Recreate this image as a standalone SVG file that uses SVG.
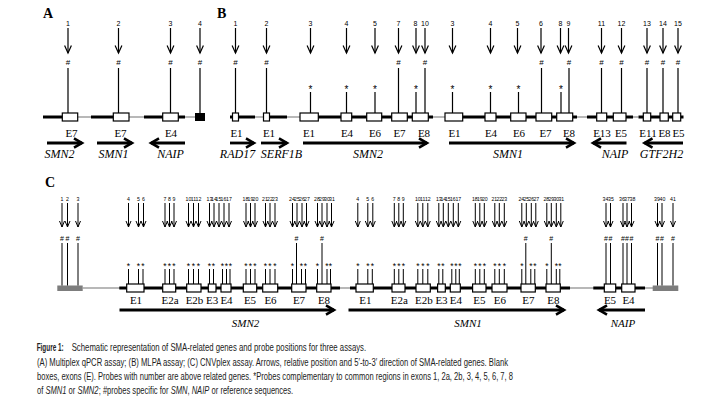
<svg xmlns="http://www.w3.org/2000/svg" width="724" height="405" viewBox="0 0 724 405">
<defs>
<marker id="ah" viewBox="-10 -6 12 12" refX="0" refY="0" markerWidth="12" markerHeight="12" markerUnits="userSpaceOnUse" orient="auto" overflow="visible"><path d="M-7.5,-3.4 L0,0 L-7.5,3.4" fill="none" stroke="#000" stroke-width="1.2"/></marker>
<marker id="ac" viewBox="-8 -4 10 8" refX="0" refY="0" markerWidth="10" markerHeight="8" markerUnits="userSpaceOnUse" orient="auto" overflow="visible"><path d="M-6,-2.5 L0,0 L-6,2.5" fill="none" stroke="#000" stroke-width="1"/></marker>
<marker id="gh" viewBox="-12 -8 16 16" refX="0" refY="0" markerWidth="16" markerHeight="16" markerUnits="userSpaceOnUse" orient="auto" overflow="visible"><path d="M-8,-4.6 L0,0 L-8,4.6" fill="none" stroke="#000" stroke-width="2.6"/></marker>
</defs>
<style>
.tk{stroke:#000;stroke-width:3;fill:none}
.tn{stroke:#a0a0a0;stroke-width:1.5;fill:none}
.ex{fill:#fff;stroke:#000;stroke-width:1.2}
.rf{fill:#7d7d7d}
.st{stroke:#000;stroke-width:1.2;fill:none}
.sc{stroke:#000;stroke-width:1;fill:none}
.pa{stroke:#000;stroke-width:1.2;fill:none;marker-end:url(#ah)}
.pc{stroke:#000;stroke-width:1;fill:none;marker-end:url(#ac)}
.ga{stroke:#000;stroke-width:2.8;fill:none;marker-end:url(#gh)}
.n{font-family:"Liberation Sans",Arial,sans-serif;font-size:7px;text-anchor:middle;fill:#000}
.nc{font-family:"Liberation Sans",Arial,sans-serif;font-size:5.2px;text-anchor:middle;fill:#000}
.m{font-family:"Liberation Sans",Arial,sans-serif;font-size:8px;text-anchor:middle;fill:#000}
.s{font-family:"Liberation Sans",Arial,sans-serif;font-size:10px;text-anchor:middle;fill:#000}
.mc{font-family:"Liberation Sans",Arial,sans-serif;font-size:7px;text-anchor:middle;fill:#000}
.sk{font-family:"Liberation Sans",Arial,sans-serif;font-size:8.5px;text-anchor:middle;fill:#000}
.e{font-family:"Liberation Serif","Times New Roman",serif;font-size:11px;text-anchor:middle;fill:#000}
.g{font-family:"Liberation Serif","Times New Roman",serif;font-size:12px;font-style:italic;text-anchor:middle;fill:#000}
.gc{font-family:"Liberation Serif","Times New Roman",serif;font-size:11px;font-style:italic;text-anchor:middle;fill:#000}
.pl{font-family:"Liberation Serif","Times New Roman",serif;font-size:14px;font-weight:bold;fill:#000}
.cap{font-family:"Liberation Sans",Arial,sans-serif;font-size:10px;fill:#222}
.it{font-style:italic}
</style>
<rect width="724" height="405" fill="#fff"/>

<g id="panel-letters">
<text class="pl" x="43" y="17.5">A</text>
<text class="pl" x="217" y="17.5">B</text>
<text class="pl" x="45" y="187">C</text>
</g>

<!-- ===== Panel A genes ===== -->
<g id="A-SMN2">
<line class="tk" x1="43" y1="117" x2="70" y2="117"/>
<line class="tn" x1="78" y1="117" x2="91" y2="117"/>
<rect class="ex" x="62.3" y="113" width="15.4" height="8"/>
<text class="e" x="71.5" y="137">E7</text>
<text class="g" x="59.5" y="158">SMN2</text>
</g>
<g id="A-SMN1">
<line class="tk" x1="91" y1="117" x2="121" y2="117"/>
<line class="tn" x1="129" y1="117" x2="144" y2="117"/>
<rect class="ex" x="113.3" y="113" width="15.7" height="8"/>
<text class="e" x="120.5" y="137">E7</text>
<text class="g" x="113.5" y="158">SMN1</text>
</g>
<g id="A-NAIP">
<line class="tk" x1="144" y1="117" x2="185" y2="117"/>
<line class="tn" x1="185" y1="117" x2="195" y2="117"/>
<rect class="ex" x="162.7" y="113" width="15.6" height="8"/>
<text class="e" x="171" y="137">E4</text>
<text class="g" x="170.5" y="158">NAIP</text>
</g>
<g id="A-ref">
<rect x="195" y="113" width="10" height="8" fill="#000"/>
</g>
<g id="A-probes">
<text class="n" x="68" y="26">1</text><text class="m" x="68" y="65">#</text>
<text class="n" x="118.5" y="26">2</text><text class="m" x="118.5" y="65">#</text>
<text class="n" x="170.5" y="26">3</text><text class="m" x="170.5" y="65">#</text>
<text class="n" x="200" y="26">4</text><text class="m" x="200" y="65">#</text>
<path class="st" d="M68 68V113M118.5 68V113M170.5 68V113M200 68V113"/>
</g>

<!-- ===== Panel B genes ===== -->
<g id="B-RAD17">
<line class="tk" x1="230" y1="117" x2="255" y2="117"/>
<rect class="ex" x="232.5" y="113" width="6" height="8"/>
<text class="e" x="236.5" y="137">E1</text>
<text class="g" x="237.5" y="158">RAD17</text>
</g>
<g id="B-SERF1B">
<line class="tn" x1="255" y1="117" x2="264" y2="117"/>
<line class="tk" x1="266" y1="117" x2="287" y2="117"/>
<rect class="ex" x="263.5" y="113" width="6" height="8"/>
<text class="e" x="269" y="137">E1</text>
<text class="g" x="281.5" y="158">SERF1B</text>
</g>
<g id="B-SMN2">
<line class="tn" x1="287" y1="117" x2="301" y2="117"/>
<line class="tk" x1="301" y1="117" x2="433" y2="117"/>
<rect class="ex" x="300" y="113" width="18.3" height="8"/>
<rect class="ex" x="341" y="113" width="10.7" height="8"/>
<rect class="ex" x="366.7" y="113" width="15" height="8"/>
<rect class="ex" x="391.7" y="113" width="15.6" height="8"/>
<rect class="ex" x="412.3" y="113" width="16" height="8"/>
<text class="e" x="309" y="137">E1</text>
<text class="e" x="347" y="137">E4</text>
<text class="e" x="375" y="137">E6</text>
<text class="e" x="399.5" y="137">E7</text>
<text class="e" x="424" y="137">E8</text>
<text class="g" x="368" y="158">SMN2</text>
</g>
<g id="B-SMN1">
<line class="tn" x1="433" y1="117" x2="446" y2="117"/>
<line class="tk" x1="446" y1="117" x2="577" y2="117"/>
<rect class="ex" x="445" y="113" width="17.7" height="8"/>
<rect class="ex" x="485" y="113" width="11" height="8"/>
<rect class="ex" x="510.7" y="113" width="15.3" height="8"/>
<rect class="ex" x="536" y="113" width="15.7" height="8"/>
<rect class="ex" x="556.7" y="113" width="16" height="8"/>
<text class="e" x="454.5" y="137">E1</text>
<text class="e" x="491" y="137">E4</text>
<text class="e" x="519" y="137">E6</text>
<text class="e" x="545.5" y="137">E7</text>
<text class="e" x="569" y="137">E8</text>
<text class="g" x="508" y="158">SMN1</text>
</g>
<g id="B-NAIP">
<line class="tn" x1="577" y1="117" x2="587" y2="117"/>
<line class="tk" x1="587" y1="117" x2="633" y2="117"/>
<rect class="ex" x="596.7" y="113" width="10" height="8"/>
<rect class="ex" x="613.3" y="113" width="12.7" height="8"/>
<text class="e" x="602" y="137">E13</text>
<text class="e" x="621" y="137">E5</text>
<text class="g" x="615" y="158">NAIP</text>
</g>
<g id="B-GTF2H2">
<line class="tn" x1="633" y1="117" x2="638.5" y2="117"/>
<line class="tk" x1="638.5" y1="117" x2="683.5" y2="117"/>
<rect class="ex" x="643.3" y="113" width="7.4" height="8"/>
<rect class="ex" x="660" y="113" width="8.3" height="8"/>
<rect class="ex" x="672.7" y="113" width="8" height="8"/>
<text class="e" x="648" y="137">E11</text>
<text class="e" x="664.5" y="137">E8</text>
<text class="e" x="678.5" y="137">E5</text>
<text class="g" x="661.5" y="158">GTF2H2</text>
</g>
<g id="B-probes">
<text class="n" x="235.5" y="26">1</text>
<text class="n" x="266.5" y="26">2</text>
<text class="n" x="310.5" y="26">3</text>
<text class="n" x="346.5" y="26">4</text>
<text class="n" x="375" y="26">5</text>
<text class="n" x="398.5" y="26">7</text>
<text class="n" x="415.5" y="26">8</text>
<text class="n" x="425" y="26">10</text>
<text class="n" x="452.5" y="26">3</text>
<text class="n" x="490.5" y="26">4</text>
<text class="n" x="517.5" y="26">5</text>
<text class="n" x="541" y="26">6</text>
<text class="n" x="560.5" y="26">8</text>
<text class="n" x="568.5" y="26">9</text>
<text class="n" x="601.5" y="26">11</text>
<text class="n" x="621.5" y="26">12</text>
<text class="n" x="647" y="26">13</text>
<text class="n" x="663" y="26">14</text>
<text class="n" x="678" y="26">15</text>
<text class="m" x="235.5" y="65">#</text>
<text class="m" x="266.5" y="65">#</text>
<text class="m" x="398.5" y="65">#</text>
<text class="m" x="425" y="65">#</text>
<text class="m" x="541.5" y="65">#</text>
<text class="m" x="569" y="65">#</text>
<text class="m" x="601.5" y="65">#</text>
<text class="m" x="621.5" y="65">#</text>
<text class="m" x="647" y="65">#</text>
<text class="m" x="663" y="65">#</text>
<text class="m" x="678" y="65">#</text>
<text class="s" x="310.5" y="92.5">*</text>
<text class="s" x="346.5" y="92.5">*</text>
<text class="s" x="375" y="92.5">*</text>
<text class="s" x="416" y="92.5">*</text>
<text class="s" x="452.5" y="92.5">*</text>
<text class="s" x="490.5" y="92.5">*</text>
<text class="s" x="518.5" y="92.5">*</text>
<text class="s" x="561" y="92.5">*</text>
<path class="st" d="M235.5 68V113M266.5 68V113M398.5 68V113M425 68V113M541.5 68V113M569 68V113M601.5 68V113M621.5 68V113M647 68V113M663 68V113M678 68V113M310.5 92V113M346.5 92V113M375 92V113M416 92V113M452.5 92V113M490.5 92V113M518.5 92V113M561 92V113"/>
</g>

<!-- ===== Panel C genes ===== -->
<g id="C-ref-left">
<line class="tn" x1="82.7" y1="288" x2="120" y2="288"/>
<rect class="rf" x="57.3" y="285.5" width="25.4" height="5.5"/>
<text class="nc" x="62" y="201">1</text>
<text class="nc" x="67.5" y="201">2</text>
<text class="nc" x="78" y="201">3</text>
<text class="mc" x="62" y="240.5">#</text>
<text class="mc" x="67.5" y="240.5">#</text>
<text class="mc" x="78" y="240.5">#</text>
<path class="sc" d="M62 243V285.5M67.5 243V285.5M78 243V285.5"/>
</g>
<g id="C-backbone">
<line class="tk" x1="119.3" y1="288" x2="340" y2="288"/>
<line class="tn" x1="340" y1="288" x2="350" y2="288"/>
<line class="tk" x1="350" y1="288" x2="570" y2="288"/>
<line class="tn" x1="570" y1="288" x2="594" y2="288"/>
<line class="tk" x1="593.3" y1="288" x2="645" y2="288"/>
<line class="tn" x1="645" y1="288" x2="653" y2="288"/>
</g>
<g id="C-SMN2">
<rect class="ex" x="126.7" y="284" width="17.3" height="8"/>
<rect class="ex" x="162.7" y="284" width="13" height="8"/>
<rect class="ex" x="186.7" y="284" width="14.3" height="8"/>
<rect class="ex" x="208.3" y="284" width="7.7" height="8"/>
<rect class="ex" x="221" y="284" width="10" height="8"/>
<rect class="ex" x="243.3" y="284" width="13.4" height="8"/>
<rect class="ex" x="262.7" y="284" width="15" height="8"/>
<rect class="ex" x="291.7" y="284" width="14.3" height="8"/>
<rect class="ex" x="316.7" y="284" width="14.3" height="8"/>
<text class="e" x="136" y="304">E1</text>
<text class="e" x="170" y="304">E2a</text>
<text class="e" x="194.5" y="304">E2b</text>
<text class="e" x="212.2" y="304">E3</text>
<text class="e" x="226.5" y="304">E4</text>
<text class="e" x="250" y="304">E5</text>
<text class="e" x="270.5" y="304">E6</text>
<text class="e" x="299" y="304">E7</text>
<text class="e" x="324" y="304">E8</text>
<g id="C-SMN2-probes">
<text class="nc" x="128.5" y="201">4</text>
<text class="nc" x="138.5" y="201">5</text>
<text class="nc" x="143.5" y="201">6</text>
<text class="nc" x="165" y="201">7</text>
<text class="nc" x="169.5" y="201">8</text>
<text class="nc" x="174" y="201">9</text>
<text class="nc" x="188.5" y="201">10</text>
<text class="nc" x="193.5" y="201">11</text>
<text class="nc" x="198.5" y="201">12</text>
<text class="nc" x="209.5" y="201">13</text>
<text class="nc" x="214" y="201">14</text>
<text class="nc" x="218.5" y="201">15</text>
<text class="nc" x="223.5" y="201">16</text>
<text class="nc" x="229" y="201">17</text>
<text class="nc" x="245.5" y="201">18</text>
<text class="nc" x="250.5" y="201">19</text>
<text class="nc" x="255.5" y="201">20</text>
<text class="nc" x="265" y="201">21</text>
<text class="nc" x="270" y="201">22</text>
<text class="nc" x="275" y="201">23</text>
<text class="nc" x="292" y="201">24</text>
<text class="nc" x="297" y="201">25</text>
<text class="nc" x="302" y="201">26</text>
<text class="nc" x="307" y="201">27</text>
<text class="nc" x="317" y="201">28</text>
<text class="nc" x="322" y="201">29</text>
<text class="nc" x="327" y="201">30</text>
<text class="nc" x="332" y="201">31</text>
<text class="sk" x="128.5" y="268.5">*</text>
<text class="sk" x="138.5" y="268.5">*</text>
<text class="sk" x="143" y="268.5">*</text>
<text class="sk" x="165" y="268.5">*</text>
<text class="sk" x="169.5" y="268.5">*</text>
<text class="sk" x="174" y="268.5">*</text>
<text class="sk" x="188.5" y="268.5">*</text>
<text class="sk" x="193.5" y="268.5">*</text>
<text class="sk" x="198.5" y="268.5">*</text>
<text class="sk" x="209.5" y="268.5">*</text>
<text class="sk" x="213.5" y="268.5">*</text>
<text class="sk" x="222.5" y="268.5">*</text>
<text class="sk" x="226.5" y="268.5">*</text>
<text class="sk" x="230.5" y="268.5">*</text>
<text class="sk" x="246" y="268.5">*</text>
<text class="sk" x="250.5" y="268.5">*</text>
<text class="sk" x="255" y="268.5">*</text>
<text class="sk" x="265.5" y="268.5">*</text>
<text class="sk" x="270" y="268.5">*</text>
<text class="sk" x="275" y="268.5">*</text>
<text class="sk" x="292.5" y="268.5">*</text>
<text class="mc" x="296.5" y="240.5">#</text>
<text class="sk" x="301.5" y="268.5">*</text>
<text class="sk" x="305.5" y="268.5">*</text>
<text class="sk" x="317.5" y="268.5">*</text>
<text class="mc" x="322" y="240.5">#</text>
<text class="sk" x="327" y="268.5">*</text>
<text class="sk" x="330.5" y="268.5">*</text>
<path class="sc" d="M128.5 269V284M138.5 269V284M143 269V284M165 269V284M169.5 269V284M174 269V284M188.5 269V284M193.5 269V284M198.5 269V284M209.5 269V284M213.5 269V284M222.5 269V284M226.5 269V284M230 269V284M246 269V284M250.5 269V284M255 269V284M265.5 269V284M270 269V284M275 269V284M292.5 269V284M296.5 243V284M301.5 269V284M305.5 269V284M317.5 269V284M322 243V284M327 269V284M330.5 269V284"/>
</g>
<text class="gc" x="245.5" y="327">SMN2</text>
</g>
<g id="C-SMN1">
<g transform="translate(229.3 0)">
<rect class="ex" x="126.7" y="284" width="17.3" height="8"/>
<rect class="ex" x="162.7" y="284" width="13" height="8"/>
<rect class="ex" x="186.7" y="284" width="14.3" height="8"/>
<rect class="ex" x="208.3" y="284" width="7.7" height="8"/>
<rect class="ex" x="221" y="284" width="10" height="8"/>
<rect class="ex" x="243.3" y="284" width="13.4" height="8"/>
<rect class="ex" x="262.7" y="284" width="15" height="8"/>
<rect class="ex" x="291.7" y="284" width="14.3" height="8"/>
<rect class="ex" x="316.7" y="284" width="14.3" height="8"/>
<text class="e" x="136" y="304">E1</text>
<text class="e" x="170" y="304">E2a</text>
<text class="e" x="194.5" y="304">E2b</text>
<text class="e" x="212.2" y="304">E3</text>
<text class="e" x="226.5" y="304">E4</text>
<text class="e" x="250" y="304">E5</text>
<text class="e" x="270.5" y="304">E6</text>
<text class="e" x="299" y="304">E7</text>
<text class="e" x="324" y="304">E8</text>
<text class="nc" x="128.5" y="201">4</text>
<text class="nc" x="138.5" y="201">5</text>
<text class="nc" x="143.5" y="201">6</text>
<text class="nc" x="165" y="201">7</text>
<text class="nc" x="169.5" y="201">8</text>
<text class="nc" x="174" y="201">9</text>
<text class="nc" x="188.5" y="201">10</text>
<text class="nc" x="193.5" y="201">11</text>
<text class="nc" x="198.5" y="201">12</text>
<text class="nc" x="209.5" y="201">13</text>
<text class="nc" x="214" y="201">14</text>
<text class="nc" x="218.5" y="201">15</text>
<text class="nc" x="223.5" y="201">16</text>
<text class="nc" x="229" y="201">17</text>
<text class="nc" x="245.5" y="201">18</text>
<text class="nc" x="250.5" y="201">19</text>
<text class="nc" x="255.5" y="201">20</text>
<text class="nc" x="265" y="201">21</text>
<text class="nc" x="270" y="201">22</text>
<text class="nc" x="275" y="201">23</text>
<text class="nc" x="292" y="201">24</text>
<text class="nc" x="297" y="201">25</text>
<text class="nc" x="302" y="201">26</text>
<text class="nc" x="307" y="201">27</text>
<text class="nc" x="317" y="201">28</text>
<text class="nc" x="322" y="201">29</text>
<text class="nc" x="327" y="201">30</text>
<text class="nc" x="332" y="201">31</text>
<text class="sk" x="128.5" y="268.5">*</text>
<text class="sk" x="138.5" y="268.5">*</text>
<text class="sk" x="143" y="268.5">*</text>
<text class="sk" x="165" y="268.5">*</text>
<text class="sk" x="169.5" y="268.5">*</text>
<text class="sk" x="174" y="268.5">*</text>
<text class="sk" x="188.5" y="268.5">*</text>
<text class="sk" x="193.5" y="268.5">*</text>
<text class="sk" x="198.5" y="268.5">*</text>
<text class="sk" x="209.5" y="268.5">*</text>
<text class="sk" x="213.5" y="268.5">*</text>
<text class="sk" x="222.5" y="268.5">*</text>
<text class="sk" x="226.5" y="268.5">*</text>
<text class="sk" x="230.5" y="268.5">*</text>
<text class="sk" x="246" y="268.5">*</text>
<text class="sk" x="250.5" y="268.5">*</text>
<text class="sk" x="255" y="268.5">*</text>
<text class="sk" x="265.5" y="268.5">*</text>
<text class="sk" x="270" y="268.5">*</text>
<text class="sk" x="275" y="268.5">*</text>
<text class="sk" x="292.5" y="268.5">*</text>
<text class="mc" x="296.5" y="240.5">#</text>
<text class="sk" x="301.5" y="268.5">*</text>
<text class="sk" x="305.5" y="268.5">*</text>
<text class="sk" x="317.5" y="268.5">*</text>
<text class="mc" x="322" y="240.5">#</text>
<text class="sk" x="327" y="268.5">*</text>
<text class="sk" x="330.5" y="268.5">*</text>
<path class="sc" d="M128.5 269V284M138.5 269V284M143 269V284M165 269V284M169.5 269V284M174 269V284M188.5 269V284M193.5 269V284M198.5 269V284M209.5 269V284M213.5 269V284M222.5 269V284M226.5 269V284M230 269V284M246 269V284M250.5 269V284M255 269V284M265.5 269V284M270 269V284M275 269V284M292.5 269V284M296.5 243V284M301.5 269V284M305.5 269V284M317.5 269V284M322 243V284M327 269V284M330.5 269V284"/>
</g>
<text class="gc" x="468" y="327">SMN1</text>
</g>
<g id="C-NAIP">
<rect class="ex" x="604.3" y="284" width="11.4" height="8"/>
<rect class="ex" x="621.7" y="284" width="13.3" height="8"/>
<text class="e" x="610" y="304">E5</text>
<text class="e" x="628.5" y="304">E4</text>
<text class="nc" x="605.5" y="201">34</text>
<text class="nc" x="611" y="201">35</text>
<text class="nc" x="622" y="201">36</text>
<text class="nc" x="627" y="201">37</text>
<text class="nc" x="632.5" y="201">38</text>
<text class="mc" x="606" y="240.5">#</text>
<text class="mc" x="610.5" y="240.5">#</text>
<text class="mc" x="623" y="240.5">#</text>
<text class="mc" x="627" y="240.5">#</text>
<text class="mc" x="631.5" y="240.5">#</text>
<path class="sc" d="M606 243V284M610.5 243V284M623 243V284M627 243V284M631.5 243V284"/>
<text class="gc" x="623" y="327">NAIP</text>
</g>
<g id="C-ref-right">
<rect class="rf" x="652.7" y="285.5" width="25.6" height="5.5"/>
<text class="nc" x="657" y="201">39</text>
<text class="nc" x="662.5" y="201">40</text>
<text class="nc" x="673" y="201">41</text>
<text class="mc" x="657.5" y="240.5">#</text>
<text class="mc" x="662" y="240.5">#</text>
<text class="mc" x="673" y="240.5">#</text>
<path class="sc" d="M657.5 243V285.5M662 243V285.5M673 243V285.5"/>
</g>

<!-- ===== Connectors: probe arrows and gene direction arrows ===== -->
<g id="connectors">
<line class="pa" x1="68" y1="28" x2="68" y2="53"/>
<line class="pa" x1="118.5" y1="28" x2="118.5" y2="53"/>
<line class="pa" x1="170.5" y1="28" x2="170.5" y2="53"/>
<line class="pa" x1="200" y1="28" x2="200" y2="53"/>
<line class="ga" x1="47" y1="143" x2="82" y2="143"/>
<line class="ga" x1="97" y1="143" x2="132" y2="143"/>
<line class="ga" x1="185" y1="143" x2="151" y2="143"/>

<line class="pa" x1="235.5" y1="28" x2="235.5" y2="53"/>
<line class="pa" x1="266.5" y1="28" x2="266.5" y2="53"/>
<line class="pa" x1="310.5" y1="28" x2="310.5" y2="53"/>
<line class="pa" x1="346.5" y1="28" x2="346.5" y2="53"/>
<line class="pa" x1="375" y1="28" x2="375" y2="53"/>
<line class="pa" x1="398.5" y1="28" x2="398.5" y2="53"/>
<line class="pa" x1="416" y1="28" x2="416" y2="53"/>
<line class="pa" x1="425" y1="28" x2="425" y2="53"/>
<line class="pa" x1="452.5" y1="28" x2="452.5" y2="53"/>
<line class="pa" x1="490.5" y1="28" x2="490.5" y2="53"/>
<line class="pa" x1="517.5" y1="28" x2="517.5" y2="53"/>
<line class="pa" x1="541" y1="28" x2="541" y2="53"/>
<line class="pa" x1="560.5" y1="28" x2="560.5" y2="53"/>
<line class="pa" x1="568.5" y1="28" x2="568.5" y2="53"/>
<line class="pa" x1="601.5" y1="28" x2="601.5" y2="53"/>
<line class="pa" x1="621.5" y1="28" x2="621.5" y2="53"/>
<line class="pa" x1="647" y1="28" x2="647" y2="53"/>
<line class="pa" x1="663" y1="28" x2="663" y2="53"/>
<line class="pa" x1="678" y1="28" x2="678" y2="53"/>
<line class="ga" x1="230" y1="143" x2="254" y2="143"/>
<line class="ga" x1="261" y1="143" x2="287" y2="143"/>
<line class="ga" x1="303" y1="143" x2="427" y2="143"/>
<line class="ga" x1="449" y1="143" x2="574" y2="143"/>
<line class="ga" x1="626.5" y1="143" x2="593" y2="143"/>
<line class="ga" x1="683" y1="143" x2="644.5" y2="143"/>

<line class="pc" x1="62" y1="203" x2="62" y2="227"/>
<line class="pc" x1="67.5" y1="203" x2="67.5" y2="227"/>
<line class="pc" x1="78" y1="203" x2="78" y2="227"/>
<g id="C-SMN2-arrows">
<line class="pc" x1="128.5" y1="203" x2="128.5" y2="227"/>
<line class="pc" x1="138.5" y1="203" x2="138.5" y2="227"/>
<line class="pc" x1="143.5" y1="203" x2="143.5" y2="227"/>
<line class="pc" x1="165" y1="203" x2="165" y2="227"/>
<line class="pc" x1="169.5" y1="203" x2="169.5" y2="227"/>
<line class="pc" x1="174" y1="203" x2="174" y2="227"/>
<line class="pc" x1="188.5" y1="203" x2="188.5" y2="227"/>
<line class="pc" x1="193.5" y1="203" x2="193.5" y2="227"/>
<line class="pc" x1="198.5" y1="203" x2="198.5" y2="227"/>
<line class="pc" x1="209.5" y1="203" x2="209.5" y2="227"/>
<line class="pc" x1="214" y1="203" x2="214" y2="227"/>
<line class="pc" x1="219" y1="203" x2="219" y2="227"/>
<line class="pc" x1="224" y1="203" x2="224" y2="227"/>
<line class="pc" x1="229" y1="203" x2="229" y2="227"/>
<line class="pc" x1="246" y1="203" x2="246" y2="227"/>
<line class="pc" x1="250.5" y1="203" x2="250.5" y2="227"/>
<line class="pc" x1="255" y1="203" x2="255" y2="227"/>
<line class="pc" x1="265.5" y1="203" x2="265.5" y2="227"/>
<line class="pc" x1="270" y1="203" x2="270" y2="227"/>
<line class="pc" x1="275" y1="203" x2="275" y2="227"/>
<line class="pc" x1="292.5" y1="203" x2="292.5" y2="227"/>
<line class="pc" x1="297" y1="203" x2="297" y2="227"/>
<line class="pc" x1="302" y1="203" x2="302" y2="227"/>
<line class="pc" x1="306.5" y1="203" x2="306.5" y2="227"/>
<line class="pc" x1="317.5" y1="203" x2="317.5" y2="227"/>
<line class="pc" x1="322" y1="203" x2="322" y2="227"/>
<line class="pc" x1="327" y1="203" x2="327" y2="227"/>
<line class="pc" x1="331.5" y1="203" x2="331.5" y2="227"/>
</g>
<g id="C-SMN1-arrows" transform="translate(229.3 0)">
<line class="pc" x1="128.5" y1="203" x2="128.5" y2="227"/>
<line class="pc" x1="138.5" y1="203" x2="138.5" y2="227"/>
<line class="pc" x1="143.5" y1="203" x2="143.5" y2="227"/>
<line class="pc" x1="165" y1="203" x2="165" y2="227"/>
<line class="pc" x1="169.5" y1="203" x2="169.5" y2="227"/>
<line class="pc" x1="174" y1="203" x2="174" y2="227"/>
<line class="pc" x1="188.5" y1="203" x2="188.5" y2="227"/>
<line class="pc" x1="193.5" y1="203" x2="193.5" y2="227"/>
<line class="pc" x1="198.5" y1="203" x2="198.5" y2="227"/>
<line class="pc" x1="209.5" y1="203" x2="209.5" y2="227"/>
<line class="pc" x1="214" y1="203" x2="214" y2="227"/>
<line class="pc" x1="219" y1="203" x2="219" y2="227"/>
<line class="pc" x1="224" y1="203" x2="224" y2="227"/>
<line class="pc" x1="229" y1="203" x2="229" y2="227"/>
<line class="pc" x1="246" y1="203" x2="246" y2="227"/>
<line class="pc" x1="250.5" y1="203" x2="250.5" y2="227"/>
<line class="pc" x1="255" y1="203" x2="255" y2="227"/>
<line class="pc" x1="265.5" y1="203" x2="265.5" y2="227"/>
<line class="pc" x1="270" y1="203" x2="270" y2="227"/>
<line class="pc" x1="275" y1="203" x2="275" y2="227"/>
<line class="pc" x1="292.5" y1="203" x2="292.5" y2="227"/>
<line class="pc" x1="297" y1="203" x2="297" y2="227"/>
<line class="pc" x1="302" y1="203" x2="302" y2="227"/>
<line class="pc" x1="306.5" y1="203" x2="306.5" y2="227"/>
<line class="pc" x1="317.5" y1="203" x2="317.5" y2="227"/>
<line class="pc" x1="322" y1="203" x2="322" y2="227"/>
<line class="pc" x1="327" y1="203" x2="327" y2="227"/>
<line class="pc" x1="331.5" y1="203" x2="331.5" y2="227"/>
</g>
<line class="pc" x1="606" y1="203" x2="606" y2="227"/>
<line class="pc" x1="610.5" y1="203" x2="610.5" y2="227"/>
<line class="pc" x1="623" y1="203" x2="623" y2="227"/>
<line class="pc" x1="627" y1="203" x2="627" y2="227"/>
<line class="pc" x1="631.5" y1="203" x2="631.5" y2="227"/>
<line class="pc" x1="657.5" y1="203" x2="657.5" y2="227"/>
<line class="pc" x1="662" y1="203" x2="662" y2="227"/>
<line class="pc" x1="673" y1="203" x2="673" y2="227"/>
<line class="ga" x1="119.5" y1="310" x2="334" y2="310"/>
<line class="ga" x1="348.5" y1="310" x2="564" y2="310"/>
<line class="ga" x1="645" y1="310" x2="599" y2="310"/>
</g>

<g id="caption">
<g transform="translate(36.7 351) scale(0.64 1)">
<text class="cap" x="0" y="0" font-weight="bold">Figure 1:</text>
</g>
<g transform="translate(71.7 351) scale(0.777 1)">
<text class="cap" x="0" y="0">Schematic representation of SMA-related genes and probe positions for three assays.</text>
</g>
<text class="cap" x="37" y="365.5" textLength="471" lengthAdjust="spacingAndGlyphs">(A) Multiplex qPCR assay; (B) MLPA assay; (C) CNVplex assay. Arrows, relative position and 5′-to-3′ direction of SMA-related genes. Blank</text>
<text class="cap" x="37" y="380" textLength="476" lengthAdjust="spacingAndGlyphs">boxes, exons (E). Probes with number are above related genes. *Probes complementary to common regions in exons 1, 2a, 2b, 3, 4, 5, 6, 7, 8</text>
<g transform="translate(37 394) scale(0.758 1)">
<text class="cap" x="0" y="0">of</text>
<text class="cap it" x="11.1" y="0">SMN1</text>
<text class="cap" x="41.7" y="0">or</text>
<text class="cap it" x="53.4" y="0">SMN2</text>
<text class="cap" x="81.4" y="0">; #probes specific for</text>
<text class="cap it" x="176.4" y="0">SMN</text>
<text class="cap" x="198.7" y="0">,</text>
<text class="cap it" x="204" y="0">NAIP</text>
<text class="cap" x="230.3" y="0">or reference sequences.</text>
</g>
</g>
</svg>
